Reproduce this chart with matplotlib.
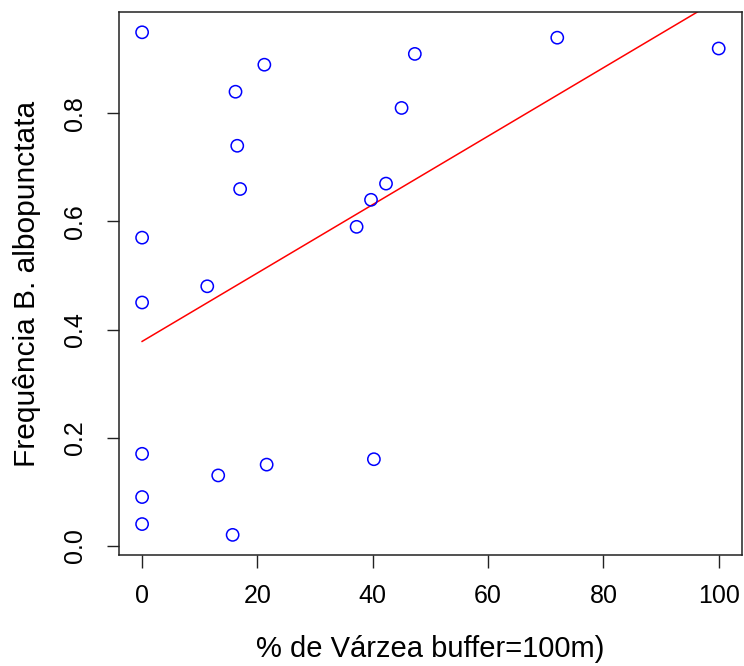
import numpy as np
import matplotlib.pyplot as plt

plt.rcParams['font.family'] = ['Liberation Sans', 'DejaVu Sans']

# % varzea in 100 m buffer vs frequency of B. albopunctata
varzea = [0, 16.2, 21.2, 16.5, 17.0, 0, 0, 11.3, 37.2, 39.7, 42.3, 45.0, 47.3,
          72.0, 100, 0, 0, 0, 13.2, 21.6, 40.2, 15.7]
freq = [0.95, 0.84, 0.89, 0.74, 0.66, 0.57, 0.45, 0.48, 0.59, 0.64, 0.67, 0.81, 0.91,
        0.94, 0.92, 0.17, 0.09, 0.04, 0.13, 0.15, 0.16, 0.02]

# fitted line
intercept = 0.378
slope = 0.00633

xticks = [0, 20, 40, 60, 80, 100]
yticks = [0.0, 0.2, 0.4, 0.6, 0.8]

fig = plt.figure(figsize=(7.44, 6.66), dpi=100)
ax = fig.add_axes([0.16, 0.1667, 0.837, 0.815])

ax.scatter(varzea, freq, s=78, facecolors='none', edgecolors='#0000FF', linewidths=1.1, zorder=3)

xs = np.array([min(varzea), max(varzea)])
ax.plot(xs, intercept + slope * xs, color='#FF0000', lw=1.1, zorder=2)

xr = max(varzea) - min(varzea)
yr = max(freq) - min(freq)
ax.set_xlim(min(varzea) - 0.04 * xr, max(varzea) + 0.04 * xr)
ax.set_ylim(min(freq) - 0.04 * yr, max(freq) + 0.04 * yr)

ax.set_xticks(xticks)
ax.set_xticklabels([str(t) for t in xticks])
ax.set_yticks(yticks)
ax.set_yticklabels(['%.1f' % t for t in yticks], rotation=90, va='center')

ax.tick_params(axis='both', length=9, width=1, labelsize=18, color='#222222')
ax.tick_params(axis='x', pad=12)
ax.tick_params(axis='y', pad=14)
for sp in ax.spines.values():
    sp.set_linewidth(1.1)
    sp.set_color('#222222')

ax.set_xlabel('% de Várzea buffer=100m)', fontsize=21, labelpad=19)
ax.set_ylabel('Frequência B. albopunctata', fontsize=21.5, labelpad=16)

fig.savefig('out.png', dpi=100)
